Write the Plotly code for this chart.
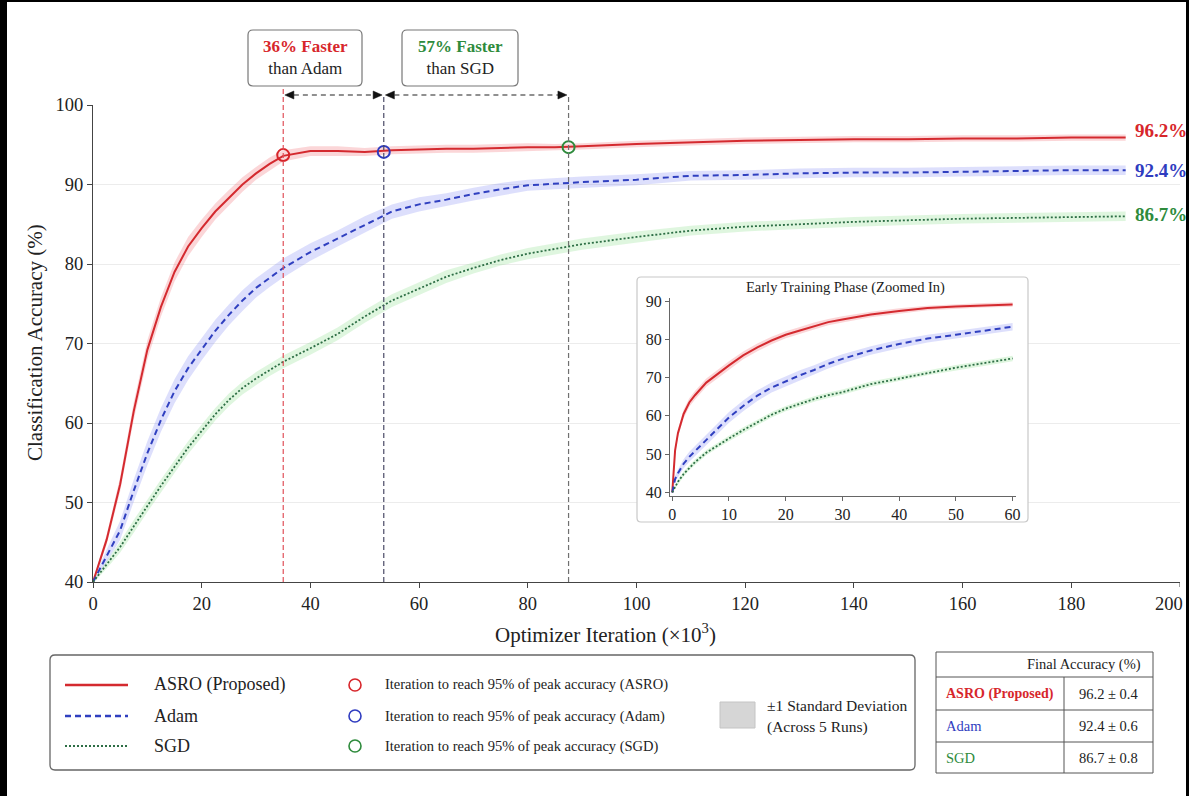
import plotly.graph_objects as go

# ---------------- data ----------------
iters = [0, 2.5, 5, 7.5, 10, 12.5, 15, 17.5, 20, 22.5, 25, 27.5, 30, 32.5, 35, 40, 45, 50,
         55, 60, 65, 70, 75, 80, 85, 90, 100, 110, 120, 130, 140, 150, 160, 170, 180, 190]
asro = [40, 45.3, 52.3, 61.5, 69.2, 74.6, 79.0, 82.2, 84.5, 86.6, 88.3, 90.0, 91.4, 92.6, 93.6, 94.2, 94.2, 94.1,
        94.3, 94.4, 94.5, 94.5, 94.6, 94.7, 94.7, 94.8, 95.1, 95.3, 95.5, 95.6, 95.7, 95.7, 95.8, 95.8, 95.9, 95.9]
adam = [40, 43.3, 46.5, 51.5, 56.2, 60.4, 64.0, 66.9, 69.3, 71.6, 73.6, 75.4, 77.0, 78.3, 79.5, 81.5, 83.2, 85.0,
        86.6, 87.5, 88.1, 88.8, 89.4, 89.9, 90.1, 90.3, 90.6, 91.1, 91.2, 91.4, 91.5, 91.5, 91.6, 91.7, 91.8, 91.8]
sgd = [40, 42.2, 44.4, 47.0, 49.6, 52.1, 54.5, 56.9, 59.0, 61.1, 62.9, 64.4, 65.6, 66.7, 67.7, 69.4, 71.2, 73.4,
       75.4, 76.9, 78.4, 79.5, 80.5, 81.3, 81.9, 82.5, 83.4, 84.2, 84.7, 85.0, 85.3, 85.5, 85.7, 85.8, 85.9, 86.0]
asro_std = [0.2, 0.6, 0.9, 1.1, 1.2, 1.2, 1.2, 1.2, 1.1, 1.0, 1.0, 0.9, 0.8, 0.8, 0.7, 0.6, 0.6, 0.5,
            0.5, 0.5, 0.5, 0.5, 0.5, 0.5, 0.4, 0.4, 0.4, 0.4, 0.4, 0.4, 0.4, 0.4, 0.4, 0.4, 0.4, 0.4]
adam_std = [0.2, 0.8, 1.2, 1.4, 1.5, 1.5, 1.5, 1.5, 1.4, 1.4, 1.3, 1.3, 1.2, 1.2, 1.2, 1.1, 1.0, 1.0,
            0.9, 0.9, 0.8, 0.8, 0.8, 0.7, 0.7, 0.7, 0.7, 0.6, 0.6, 0.6, 0.6, 0.6, 0.6, 0.6, 0.6, 0.6]
sgd_std = [0.2, 0.5, 0.7, 0.8, 0.8, 0.8, 0.8, 0.8, 0.8, 0.8, 0.8, 0.8, 0.8, 0.8, 0.8, 0.8, 0.8, 0.8,
           0.8, 0.8, 0.8, 0.7, 0.7, 0.7, 0.7, 0.7, 0.7, 0.6, 0.6, 0.6, 0.6, 0.6, 0.6, 0.6, 0.6, 0.6]

inset_iters = [0, 0.5, 1, 2, 3, 4, 6, 8, 10, 12.5, 15, 17.5, 20, 22.5, 25, 27.5, 30, 35, 40, 45, 50, 55, 60]
inset_asro = [40, 51, 55.5, 60.5, 63.5, 65.4, 68.7, 71.0, 73.2, 75.8, 77.9, 79.7, 81.2, 82.3, 83.5, 84.5, 85.2,
              86.5, 87.4, 88.2, 88.6, 88.9, 89.1]
inset_adam = [40, 43.5, 45.0, 47.5, 49.3, 50.8, 53.8, 56.7, 59.6, 62.6, 65.3, 67.4, 69.1, 70.6, 72.0, 73.6, 74.9,
              77.1, 78.8, 80.2, 81.2, 82.3, 83.3]
inset_sgd = [40, 41.5, 42.8, 44.8, 46.5, 47.9, 50.4, 52.3, 54.1, 56.3, 58.3, 60.3, 61.9, 63.2, 64.4, 65.4, 66.2,
             68.3, 69.8, 71.3, 72.6, 73.8, 75.0]
inset_asro_std = [0.2, 0.8, 1.0, 1.1, 1.1, 1.1, 1.1, 1.1, 1.1, 1.0, 1.0, 1.0, 0.9, 0.9, 0.9, 0.8, 0.8,
                  0.7, 0.7, 0.6, 0.6, 0.6, 0.6]
inset_adam_std = [0.2, 0.8, 1.0, 1.2, 1.3, 1.3, 1.4, 1.4, 1.4, 1.4, 1.4, 1.3, 1.3, 1.3, 1.2, 1.2, 1.2,
                  1.1, 1.1, 1.0, 1.0, 1.0, 1.0]
inset_sgd_std = [0.2, 0.5, 0.6, 0.7, 0.7, 0.7, 0.7, 0.7, 0.7, 0.7, 0.7, 0.7, 0.7, 0.7, 0.7, 0.7, 0.7,
                 0.7, 0.7, 0.7, 0.7, 0.7, 0.7]

series_names = ["ASRO (Proposed)", "Adam", "SGD"]
milestone_iters = [35, 53.5, 87.5]
milestone_acc = [93.7, 94.1, 94.7]
final_mean = [96.2, 92.4, 86.7]
final_std = [0.4, 0.6, 0.8]
speedups = [36, 57]

x_ticks = [0, 20, 40, 60, 80, 100, 120, 140, 160, 180, 200]
y_ticks = [40, 50, 60, 70, 80, 90, 100]
inset_x_ticks = [0, 10, 20, 30, 40, 50, 60]
inset_y_ticks = [40, 50, 60, 70, 80, 90]

# ---------------- styles ----------------
FONT = "Liberation Serif, Times New Roman, serif"
RED = "#d7262b"
BLUE = "#2f3cc0"
GREEN = "#2e8b3c"
LINE_COLORS = ["#d42a2f", "#3040c0", "#2d6e45"]
TEXT_COLORS = [RED, BLUE, GREEN]
BAND_COLORS = ["rgba(240,90,100,0.25)", "rgba(100,110,240,0.22)", "rgba(110,215,110,0.22)"]
DASHES = ["solid", "6px,4px", "2px,2px"]
WIDTHS = [2.0, 2.0, 1.8]

W, H = 1189, 796
PL, PR, PT, PB = 93, 1180, 105, 582
XSCALE = (PR - PL) / 200.0  # px per x unit


def fx(p):
    return (p - PL) / (PR - PL)


def fy(p):
    return (PB - p) / (PB - PT)


def dx(p):
    return (p - PL) / (PR - PL) * 200


def dy(p):
    return 40 + (PB - p) / (PB - PT) * 60


def rrect(x0, y0, x1, y1, rx, ry):
    return (f"M {x0+rx},{y0} L {x1-rx},{y0} Q {x1},{y0} {x1},{y0+ry} "
            f"L {x1},{y1-ry} Q {x1},{y1} {x1-rx},{y1} L {x0+rx},{y1} Q {x0},{y1} {x0},{y1-ry} "
            f"L {x0},{y0+ry} Q {x0},{y0} {x0+rx},{y0} Z")


fig = go.Figure()

main_series = [asro, adam, sgd]
main_std = [asro_std, adam_std, sgd_std]
inset_series = [inset_asro, inset_adam, inset_sgd]
inset_std = [inset_asro_std, inset_adam_std, inset_sgd_std]

# bands
for i in range(3):
    up = [m + s for m, s in zip(main_series[i], main_std[i])]
    lo = [m - s for m, s in zip(main_series[i], main_std[i])]
    fig.add_trace(go.Scatter(x=iters + iters[::-1], y=up + lo[::-1], fill="toself",
                             fillcolor=BAND_COLORS[i], line=dict(width=0), mode="lines",
                             hoverinfo="skip", showlegend=False))
for i in range(3):
    fig.add_trace(go.Scatter(x=iters, y=main_series[i], mode="lines", name=series_names[i],
                             line=dict(color=LINE_COLORS[i], width=WIDTHS[i], dash=DASHES[i]),
                             showlegend=False))

# milestone markers
fig.add_trace(go.Scatter(x=milestone_iters, y=milestone_acc, mode="markers",
                         marker=dict(symbol="circle-open", size=12, color=TEXT_COLORS,
                                     line=dict(width=2)), showlegend=False))

# inset
for i in range(3):
    up = [m + s for m, s in zip(inset_series[i], inset_std[i])]
    lo = [m - s for m, s in zip(inset_series[i], inset_std[i])]
    fig.add_trace(go.Scatter(x=inset_iters + inset_iters[::-1], y=up + lo[::-1], fill="toself",
                             fillcolor=BAND_COLORS[i], line=dict(width=0), mode="lines",
                             hoverinfo="skip", showlegend=False, xaxis="x2", yaxis="y2"))
for i in range(3):
    fig.add_trace(go.Scatter(x=inset_iters, y=inset_series[i], mode="lines",
                             line=dict(color=LINE_COLORS[i], width=WIDTHS[i], dash=DASHES[i]),
                             showlegend=False, xaxis="x2", yaxis="y2"))

shapes = []
# horizontal reference at 90
shapes.append(dict(type="line", xref="x", yref="y", x0=0, x1=200, y0=90, y1=90,
                   line=dict(color="#a0a0a0", width=1, dash="5px,4px"), layer="below"))
# vertical milestone lines
vcols = ["#e0505a", "#4a4a66", "#707070"]
vtops = [87, 95, 95]
for i in range(3):
    shapes.append(dict(type="line", xref="x", yref="paper", x0=milestone_iters[i], x1=milestone_iters[i],
                       y0=0, y1=fy(vtops[i]), line=dict(color=vcols[i], width=1.2, dash="5px,3px")))
# dashed double arrows between milestones
AY = fy(95)
HL = 9 / XSCALE          # arrow head length in x units
HH = 4 / (PB - PT)       # arrow head half-height in paper units
for a, b in [(0, 1), (1, 2)]:
    xa = milestone_iters[a] + 0.3
    xb = milestone_iters[b] - 0.3
    shapes.append(dict(type="line", xref="x", yref="paper", x0=xa + HL, x1=xb - HL, y0=AY, y1=AY,
                       line=dict(color="#222", width=1.2, dash="5px,4px")))
    shapes.append(dict(type="path", xref="x", yref="paper",
                       path=f"M {xa},{AY} L {xa+HL},{AY+HH} L {xa+HL},{AY-HH} Z",
                       fillcolor="#111", line=dict(color="#111", width=0.5)))
    shapes.append(dict(type="path", xref="x", yref="paper",
                       path=f"M {xb},{AY} L {xb-HL},{AY+HH} L {xb-HL},{AY-HH} Z",
                       fillcolor="#111", line=dict(color="#111", width=0.5)))
# inset box (data coords so it covers main gridlines)
shapes.append(dict(type="path", xref="x", yref="y", layer="between",
                   path=rrect(dx(637), dy(277), dx(1028), dy(522), 4 * 200 / 1087, -4 * 60 / 477),
                   fillcolor="white", line=dict(color="#c8c8c8", width=1.2)))
# annotation boxes
for bx0, bx1 in [(248, 362), (402, 518)]:
    shapes.append(dict(type="path", xref="paper", yref="paper",
                       path=rrect(fx(bx0), fy(30), fx(bx1), fy(86), 5 / 1087, -5 / 477),
                       fillcolor="white", line=dict(color="#777", width=1.2)))
# legend box
shapes.append(dict(type="path", xref="paper", yref="paper",
                   path=rrect(fx(50), fy(655), fx(915), fy(770), 5 / 1087, -5 / 477),
                   fillcolor="white", line=dict(color="#666", width=1.3)))
leg_y = [685, 716, 746]
for i in range(3):
    shapes.append(dict(type="line", xref="paper", yref="paper", x0=fx(65), x1=fx(128),
                       y0=fy(leg_y[i]), y1=fy(leg_y[i]),
                       line=dict(color=LINE_COLORS[i], width=WIDTHS[i] + 0.4, dash=DASHES[i])))
    shapes.append(dict(type="circle", xref="paper", yref="paper",
                       x0=fx(349), x1=fx(361), y0=fy(leg_y[i] - 6), y1=fy(leg_y[i] + 6),
                       line=dict(color=TEXT_COLORS[i], width=1.6)))
shapes.append(dict(type="rect", xref="paper", yref="paper", x0=fx(720), x1=fx(755), y0=fy(702), y1=fy(728),
                   fillcolor="#d6d6d6", line=dict(color="#c4c4c4", width=1)))
# table
TC = "#555"
shapes.append(dict(type="rect", xref="paper", yref="paper", x0=fx(936), x1=fx(1153), y0=fy(652), y1=fy(773),
                   fillcolor="white", line=dict(color=TC, width=1)))
for yy in [677, 710, 742]:
    shapes.append(dict(type="line", xref="paper", yref="paper", x0=fx(936), x1=fx(1153), y0=fy(yy), y1=fy(yy),
                       line=dict(color=TC, width=1)))
shapes.append(dict(type="line", xref="paper", yref="paper", x0=fx(1064), x1=fx(1064), y0=fy(677), y1=fy(773),
                   line=dict(color=TC, width=1)))
# tick mark for the last x tick (its label is drawn separately so it stays inside the page)
shapes.append(dict(type="line", xref="x", yref="paper", x0=x_ticks[-1], x1=x_ticks[-1], y0=0, y1=-5 / (PB - PT),
                   line=dict(color="#444", width=1)))
# page frame
shapes.append(dict(type="rect", xref="paper", yref="paper", x0=fx(0), x1=fx(7), y0=fy(0), y1=fy(796),
                   fillcolor="black", line=dict(width=0)))
shapes.append(dict(type="rect", xref="paper", yref="paper", x0=fx(0), x1=fx(1189), y0=fy(0), y1=fy(2),
                   fillcolor="black", line=dict(width=0)))
shapes.append(dict(type="rect", xref="paper", yref="paper", x0=fx(1186), x1=fx(1189), y0=fy(0), y1=fy(796),
                   fillcolor="black", line=dict(width=0)))

ann = []


def txt(x, y, text, size, color="#222", xanchor="center", **kw):
    ann.append(dict(x=fx(x), y=fy(y), xref="paper", yref="paper", text=text, showarrow=False,
                    xanchor=xanchor, yanchor="middle", font=dict(family=FONT, size=size, color=color), **kw))


# last x tick label
txt(1185, 604, str(x_ticks[-1]), 18.5, xanchor="right")
# axis titles
txt(35, 343, "Classification Accuracy (%)", 21, textangle=-90)
txt(605, 633, "Optimizer Iteration (×10<sup>3</sup>)", 21)
# speedup boxes
txt(305, 58, f"<span style='color:{RED}'><b>{speedups[0]}% Faster</b></span><br>than Adam", 17)
txt(460, 58, f"<span style='color:{GREEN}'><b>{speedups[1]}% Faster</b></span><br>than SGD", 17)
# end labels
for i, yy in enumerate([131, 170, 214]):
    txt(1133, yy, f"<b>{final_mean[i]}%</b>", 19, TEXT_COLORS[i], xanchor="left")
# inset title
txt(846, 287, "Early Training Phase (Zoomed In)", 14.5)
# legend texts
for i in range(3):
    txt(152, leg_y[i], series_names[i], 18, xanchor="left")
    short = ["ASRO", "Adam", "SGD"][i]
    txt(383, leg_y[i], f"Iteration to reach 95% of peak accuracy ({short})", 14.5, xanchor="left")
txt(765, 705, "±1 Standard Deviation", 15.5, xanchor="left")
txt(765, 727, "(Across 5 Runs)", 15.5, xanchor="left")
# table texts
txt(1143, 664, "Final Accuracy (%)", 14.5, xanchor="right")
row_y = [694, 726, 758]
for i in range(3):
    label = f"<b>{series_names[i]}</b>" if i == 0 else series_names[i]
    txt(944, row_y[i], label, 14 if i == 0 else 14.5, TEXT_COLORS[i], xanchor="left")
    txt(1108, row_y[i], f"{final_mean[i]} ± {final_std[i]}", 14.5)

fig.update_layout(
    width=W, height=H, autosize=False,
    margin=dict(l=PL, r=W - PR, t=PT, b=H - PB, pad=0, autoexpand=False),
    paper_bgcolor="white", plot_bgcolor="white",
    font=dict(family=FONT, color="#222"),
    showlegend=False,
    shapes=shapes, annotations=ann,
    xaxis=dict(range=[0, 200], tickvals=x_ticks[:-1], showgrid=False, zeroline=False, automargin=False,
               showline=True, linecolor="#444", linewidth=1.3, ticks="outside", ticklen=5,
               tickcolor="#444", tickfont=dict(family=FONT, size=18.5, color="#222")),
    yaxis=dict(range=[40, 100], tickvals=y_ticks, showgrid=True, gridcolor="#ececec", gridwidth=1,
               zeroline=False, showline=True, linecolor="#444", linewidth=1.3, ticks="outside",
               ticklen=5, tickcolor="#444", ticklabeloverflow="allow", automargin=False,
               tickfont=dict(family=FONT, size=18.5, color="#222")),
    xaxis2=dict(domain=[fx(670), fx(1016)], anchor="y2", range=[-0.4, 60.6], tickvals=inset_x_ticks,
                showgrid=False, zeroline=False, showline=True, linecolor="#666", linewidth=1.2,
                automargin=False,
                ticks="outside", ticklen=4, tickcolor="#666", tickfont=dict(family=FONT, size=16, color="#222")),
    yaxis2=dict(domain=[fy(495.5), fy(298)], anchor="x2", range=[39.2, 90.8], tickvals=inset_y_ticks,
                showgrid=False, zeroline=False, showline=True, linecolor="#666", linewidth=1.2,
                automargin=False,
                ticks="outside", ticklen=4, tickcolor="#666", tickfont=dict(family=FONT, size=16, color="#222")),
)

fig.write_html("out.html", config={"displayModeBar": False},
               post_script="document.body.style.margin='0';document.body.style.overflow='hidden';")
